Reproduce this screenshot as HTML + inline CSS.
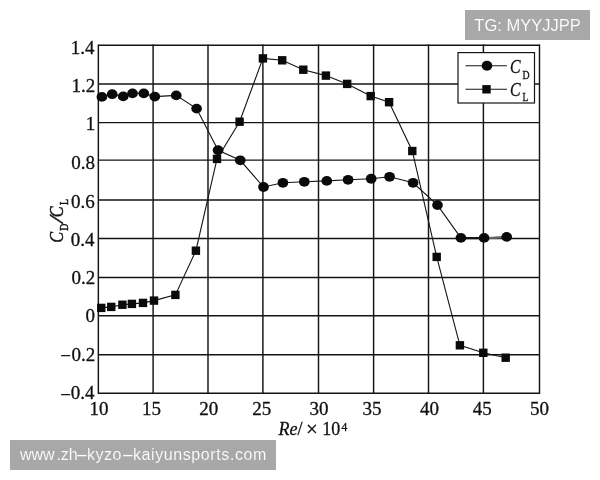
<!DOCTYPE html>
<html lang="en"><head><meta charset="utf-8"><title>chart</title>
<style>
html,body{margin:0;padding:0;background:#fff;}
body{width:600px;height:480px;overflow:hidden;position:relative;}
svg{position:absolute;left:0;top:0;display:block;}
.t{font-family:"Liberation Serif","DejaVu Serif",serif;fill:#111;stroke:#111;stroke-width:0.3px;}
.wm{position:absolute;background:#a8a8a8;color:#fff;font-family:"Liberation Sans","DejaVu Sans",sans-serif;white-space:nowrap;-webkit-text-stroke:0.12px #a8a8a8;}
.hy{display:inline-block;width:12.2px;text-align:center;}.hy span{display:inline-block;transform:translateX(0.8px) scaleX(2.05);}
</style></head><body>
<svg width="600" height="480" viewBox="0 0 600 480">
<rect width="600" height="480" fill="#ffffff"/>

<g stroke="#141414" stroke-width="1.45" fill="none">
<line x1="98.35" y1="44.475" x2="98.35" y2="394.02500000000003"/>
<line x1="153.1" y1="44.475" x2="153.1" y2="394.02500000000003"/>
<line x1="208.0" y1="44.475" x2="208.0" y2="394.02500000000003"/>
<line x1="262.9" y1="44.475" x2="262.9" y2="394.02500000000003"/>
<line x1="318.5" y1="44.475" x2="318.5" y2="394.02500000000003"/>
<line x1="373.6" y1="44.475" x2="373.6" y2="394.02500000000003"/>
<line x1="428.5" y1="44.475" x2="428.5" y2="394.02500000000003"/>
<line x1="483.4" y1="44.475" x2="483.4" y2="394.02500000000003"/>
<line x1="539.5" y1="44.475" x2="539.5" y2="394.02500000000003"/>
<line x1="98.35" y1="45.2" x2="539.5" y2="45.2"/>
<line x1="98.35" y1="83.9" x2="539.5" y2="83.9"/>
<line x1="98.35" y1="122.6" x2="539.5" y2="122.6"/>
<line x1="98.35" y1="160.1" x2="539.5" y2="160.1"/>
<line x1="98.35" y1="199.9" x2="539.5" y2="199.9"/>
<line x1="98.35" y1="238.5" x2="539.5" y2="238.5"/>
<line x1="98.35" y1="277.4" x2="539.5" y2="277.4"/>
<line x1="98.35" y1="315.7" x2="539.5" y2="315.7"/>
<line x1="98.35" y1="354.7" x2="539.5" y2="354.7"/>
<line x1="98.35" y1="393.3" x2="539.5" y2="393.3"/>
</g>
<rect x="458" y="52.6" width="76.5" height="50.4" fill="#fff" stroke="#141414" stroke-width="1.2"/>
<g stroke="#141414" stroke-width="1.1"><line x1="465.5" y1="65.8" x2="507" y2="65.8"/><line x1="465.5" y1="89.3" x2="507" y2="89.3"/></g>
<ellipse cx="487" cy="65.7" rx="5.3" ry="5.0" fill="#0a0a0a"/><rect x="482.3" y="85.1" width="8.4" height="8.4" fill="#0a0a0a"/>
<g class="t"><text transform="translate(510.0,72.6) scale(0.8,1)" font-size="19.8" font-style="italic">C</text><text transform="translate(522.4,79.0) scale(0.85,1)" font-size="11.5">D</text><text transform="translate(510.0,95.8) scale(0.8,1)" font-size="19.8" font-style="italic">C</text><text transform="translate(522.4,100.8) scale(0.82,1)" font-size="11.5">L</text></g>
<polyline fill="none" stroke="#141414" stroke-width="1.1" points="101.9,96.9 112.2,94.2 123.2,96.4 132.5,93.4 143.8,93.4 154.8,96.6 176.25,95.4 196.6,108.6 218.1,150.25 240.25,160.3 263.5,187 282.9,182.8 304.3,181.8 326.8,180.9 348.1,179.8 371.2,178.75 389.6,176.8 413.1,182.8 437.5,205.1 460.9,237.85 484.1,237.9 506.7,236.9"/>
<polyline fill="none" stroke="#141414" stroke-width="1.1" points="101.25,307.9 111.25,306.9 122.4,304.75 131.9,303.9 143,302.9 154,300.6 175.4,294.9 195.9,250.7 217,158.9 239.6,121.7 262.9,58.4 282.2,60.3 303.3,69.7 325.9,75.6 347.2,83.9 370.7,96.1 389.1,102.2 412.3,151 436.7,256.9 459.9,345.3 483.3,352.8 505.7,357.7"/>
<line x1="461" y1="238.1" x2="484" y2="238.1" stroke="#141414" stroke-width="2.2"/><line x1="484" y1="238.3" x2="506.5" y2="237.2" stroke="#6a6a6a" stroke-width="1.9"/>
<g fill="#0a0a0a">
<ellipse cx="101.9" cy="96.9" rx="5.35" ry="4.9"/>
<ellipse cx="112.2" cy="94.2" rx="5.35" ry="4.9"/>
<ellipse cx="123.2" cy="96.4" rx="5.35" ry="4.9"/>
<ellipse cx="132.5" cy="93.4" rx="5.35" ry="4.9"/>
<ellipse cx="143.8" cy="93.4" rx="5.35" ry="4.9"/>
<ellipse cx="154.8" cy="96.6" rx="5.35" ry="4.9"/>
<ellipse cx="176.25" cy="95.4" rx="5.35" ry="4.9"/>
<ellipse cx="196.6" cy="108.6" rx="5.35" ry="4.9"/>
<ellipse cx="218.1" cy="150.25" rx="5.35" ry="4.9"/>
<ellipse cx="240.25" cy="160.3" rx="5.35" ry="4.9"/>
<ellipse cx="263.5" cy="187" rx="5.35" ry="4.9"/>
<ellipse cx="282.9" cy="182.8" rx="5.35" ry="4.9"/>
<ellipse cx="304.3" cy="181.8" rx="5.35" ry="4.9"/>
<ellipse cx="326.8" cy="180.9" rx="5.35" ry="4.9"/>
<ellipse cx="348.1" cy="179.8" rx="5.35" ry="4.9"/>
<ellipse cx="371.2" cy="178.75" rx="5.35" ry="4.9"/>
<ellipse cx="389.6" cy="176.8" rx="5.35" ry="4.9"/>
<ellipse cx="413.1" cy="182.8" rx="5.35" ry="4.9"/>
<ellipse cx="437.5" cy="205.1" rx="5.35" ry="4.9"/>
<ellipse cx="460.9" cy="237.85" rx="5.35" ry="4.9"/>
<ellipse cx="484.1" cy="237.9" rx="5.35" ry="4.9"/>
<ellipse cx="506.7" cy="236.9" rx="5.35" ry="4.9"/>
<rect x="97.05" y="303.7" width="8.4" height="8.4"/>
<rect x="107.05" y="302.7" width="8.4" height="8.4"/>
<rect x="118.2" y="300.55" width="8.4" height="8.4"/>
<rect x="127.7" y="299.7" width="8.4" height="8.4"/>
<rect x="138.8" y="298.7" width="8.4" height="8.4"/>
<rect x="149.8" y="296.4" width="8.4" height="8.4"/>
<rect x="171.2" y="290.7" width="8.4" height="8.4"/>
<rect x="191.7" y="246.5" width="8.4" height="8.4"/>
<rect x="212.8" y="154.7" width="8.4" height="8.4"/>
<rect x="235.4" y="117.5" width="8.4" height="8.4"/>
<rect x="258.7" y="54.2" width="8.4" height="8.4"/>
<rect x="278.0" y="56.1" width="8.4" height="8.4"/>
<rect x="299.1" y="65.5" width="8.4" height="8.4"/>
<rect x="321.7" y="71.4" width="8.4" height="8.4"/>
<rect x="343.0" y="79.7" width="8.4" height="8.4"/>
<rect x="366.5" y="91.9" width="8.4" height="8.4"/>
<rect x="384.9" y="98.0" width="8.4" height="8.4"/>
<rect x="408.1" y="146.8" width="8.4" height="8.4"/>
<rect x="432.5" y="252.7" width="8.4" height="8.4"/>
<rect x="455.7" y="341.1" width="8.4" height="8.4"/>
<rect x="479.1" y="348.6" width="8.4" height="8.4"/>
<rect x="501.5" y="353.5" width="8.4" height="8.4"/>
</g>
<g class="t" font-size="19" text-anchor="end">
<text x="94.5" y="53.6">1.4</text>
<text x="95.25" y="91.9">1.2</text>
<text x="95.34" y="130">1</text>
<text x="94.92" y="168.8">0.8</text>
<text x="94.77" y="207.5">0.6</text>
<text x="94.5" y="245.6">0.4</text>
<text x="95.25" y="284">0.2</text>
<text x="94.92" y="322.3">0</text>
<text x="70.9" y="362.1">−</text>
<text x="95.25" y="360.6">0.2</text>
<text x="70.9" y="400.5">−</text>
<text x="94.5" y="399.0">0.4</text>
</g>
<g class="t" font-size="19" text-anchor="middle">
<text x="99.03" y="415">10</text>
<text x="151.53" y="415">15</text>
<text x="208.74" y="415">20</text>
<text x="261.75" y="415">25</text>
<text x="319.1" y="415">30</text>
<text x="372.11" y="415">35</text>
<text x="429.57" y="415">40</text>
<text x="482.18" y="415">45</text>
<text x="539.61" y="415">50</text>
</g>
<g class="t"><text x="278.6" y="435" font-size="18" font-style="italic">Re</text><text x="297.6" y="435" font-size="18">/</text><text x="305.9" y="436" font-size="21">×</text><text x="322.2" y="435" font-size="18">10</text><text x="341.4" y="430.6" font-size="11.5">4</text></g>
<g class="t" style="stroke-width:0.45px" transform="translate(62.6,243) rotate(-90)"><text transform="translate(0.2,0) scale(0.82,1)" font-size="19.8" font-style="italic">C</text><text transform="translate(12.3,5.7) scale(0.85,1)" font-size="11.5">D</text><text transform="translate(20,0) scale(1.25,1)" font-size="19.8" font-style="italic">/</text><text transform="translate(25.7,0) scale(0.82,1)" font-size="19.8" font-style="italic">C</text><text transform="translate(38.1,5.7) scale(0.85,1)" font-size="11.5">L</text></g>
</svg>
<div class="wm" style="left:465px;top:10px;width:125px;height:29.5px;line-height:31.7px;font-size:16.5px;text-align:center;overflow:hidden;">TG: MYYJJPP</div>
<div class="wm" style="left:10px;top:440px;width:266px;height:29.5px;line-height:29.5px;font-size:16px;overflow:hidden;"><span style="position:absolute;left:10px;top:0;">www<span style="margin-left:1.8px">.</span><span style="margin-left:-0.3px">zh</span></span><span style="position:absolute;left:71.9px;top:0;width:0;"><span style="display:inline-block;transform:translateX(-50%) scaleX(2.5);">-</span></span><span style="position:absolute;left:76.9px;top:0;letter-spacing:0.5px;">kyzo</span><span style="position:absolute;left:117.5px;top:0;width:0;"><span style="display:inline-block;transform:translateX(-50%) scaleX(2.5);">-</span></span><span style="position:absolute;left:122.9px;top:0;letter-spacing:0.6px;">kaiyunsports.com</span></div>
</body></html>
